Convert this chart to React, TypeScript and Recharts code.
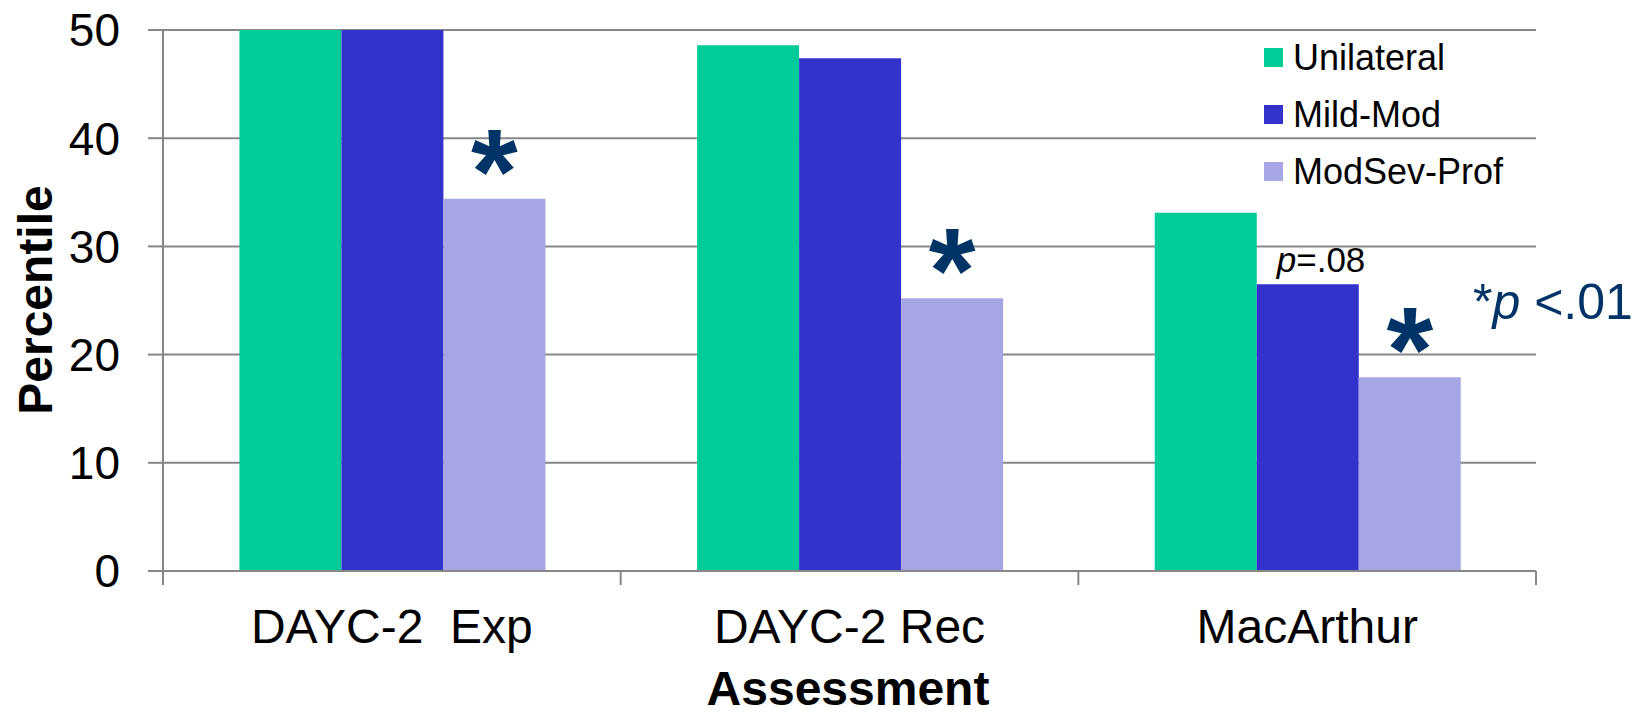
import { BarChart, Bar, XAxis, YAxis, CartesianGrid, LabelList, Label } from 'recharts';

const categories = ['DAYC-2  Exp', 'DAYC-2 Rec', 'MacArthur'];
const unilateral = [50, 48.6, 33.1];
const mildMod = [50, 47.4, 26.5];
const modSevProf = [34.4, 25.2, 17.9];
const modSevStars = ['*', '*', '*'];
const mildModNotes = ['', '', '=.08'];
const yTicks = [0, 10, 20, 30, 40, 50];

const seriesNames = ['Unilateral', 'Mild-Mod', 'ModSev-Prof'];
const seriesColors = ['#00CC99', '#3333CC', '#A6A6E6'];

const FONT = '"Liberation Sans", Arial, sans-serif';
const GRID = '#878787';
const NAVY = '#003366';
const PLOT_BOTTOM = 571;

const data = categories.map((name, i) => ({
  name,
  unilateral: unilateral[i],
  mildMod: mildMod[i],
  modSev: modSevProf[i],
  star: modSevStars[i],
  note: mildModNotes[i],
}));

function CategoryTick(props: any) {
  const { x, payload, index } = props;
  const half = payload?.offset ?? 228.8;
  return (
    <g>
      <line x1={x - half} x2={x - half} y1={PLOT_BOTTOM} y2={PLOT_BOTTOM + 14} stroke={GRID} strokeWidth={2} />
      {index === categories.length - 1 && (
        <line x1={x + half} x2={x + half} y1={PLOT_BOTTOM} y2={PLOT_BOTTOM + 14} stroke={GRID} strokeWidth={2} />
      )}
      <text x={x} y={PLOT_BOTTOM + 72} textAnchor="middle" fontSize={48} fontFamily={FONT} fill="#000" style={{ whiteSpace: 'pre' }}>
        {payload.value}
      </text>
    </g>
  );
}

function StarLabel(props: any) {
  const { x, y, width, value } = props;
  if (!value) return null;
  return (
    <text x={x + width / 2} y={y + 14} textAnchor="middle" fontSize={120} fontWeight="bold" fontFamily={FONT} fill={NAVY}>
      {value}
    </text>
  );
}

function NoteLabel(props: any) {
  const { x, y, value } = props;
  if (!value) return null;
  return (
    <text x={x + 20} y={y - 12} fontSize={35} fontFamily={FONT} fill="#000">
      <tspan fontStyle="italic">p</tspan>
      {value}
    </text>
  );
}

function LegendBox() {
  return (
    <div style={{ position: 'absolute', left: 1264, top: 29, fontFamily: FONT }}>
      {seriesNames.map((n, i) => (
        <div key={n} style={{ display: 'flex', alignItems: 'center', height: 57 }}>
          <span style={{ width: 19, height: 19, background: seriesColors[i], marginRight: 10, display: 'inline-block' }} />
          <span style={{ fontSize: 36, color: '#000', lineHeight: '57px' }}>{n}</span>
        </div>
      ))}
    </div>
  );
}

export default function App() {
  return (
    <div style={{ position: 'absolute', left: 0, top: 0, width: 1652, height: 712, background: '#fff' }}>
      <BarChart
        width={1652}
        height={712}
        data={data}
        margin={{ top: 30, right: 116, left: 0, bottom: 0 }}
        barCategoryGap="16.7%"
        barGap={0}
      >
        <CartesianGrid horizontal vertical={false} stroke={GRID} strokeWidth={2} />
        <XAxis
          dataKey="name"
          height={141}
          tickLine={false}
          axisLine={{ stroke: GRID, strokeWidth: 2 }}
          tick={<CategoryTick />}
          interval={0}
        >
          <Label
            content={() => (
              <text x={848} y={705} textAnchor="middle" fontSize={48} fontWeight="bold" fontFamily={FONT} fill="#000">
                Assessment
              </text>
            )}
          />
        </XAxis>
        <YAxis
          width={163}
          domain={[0, 50]}
          ticks={yTicks}
          allowDataOverflow
          tickSize={15}
          tickMargin={28}
          tickLine={{ stroke: GRID, strokeWidth: 2 }}
          axisLine={{ stroke: GRID, strokeWidth: 2 }}
          tick={{ fontSize: 46, fontFamily: FONT, fill: '#000' }}
        >
          <Label
            content={() => (
              <text
                x={52}
                y={300}
                transform="rotate(-90, 52, 300)"
                textAnchor="middle"
                fontSize={48}
                fontWeight="bold"
                fontFamily={FONT}
                fill="#000"
              >
                Percentile
              </text>
            )}
          />
        </YAxis>
        <Bar dataKey="unilateral" name={seriesNames[0]} fill={seriesColors[0]} isAnimationActive={false} />
        <Bar dataKey="mildMod" name={seriesNames[1]} fill={seriesColors[1]} isAnimationActive={false}>
          <LabelList dataKey="note" content={<NoteLabel />} />
        </Bar>
        <Bar dataKey="modSev" name={seriesNames[2]} fill={seriesColors[2]} isAnimationActive={false}>
          <LabelList dataKey="star" content={<StarLabel />} />
        </Bar>
      </BarChart>
      <LegendBox />
      <div
        style={{
          position: 'absolute',
          left: 1473,
          top: 272,
          fontFamily: FONT,
          fontSize: 50,
          color: NAVY,
          lineHeight: '60px',
          whiteSpace: 'pre',
        }}
      >
        *<i>p</i> &lt;.01
      </div>
    </div>
  );
}
